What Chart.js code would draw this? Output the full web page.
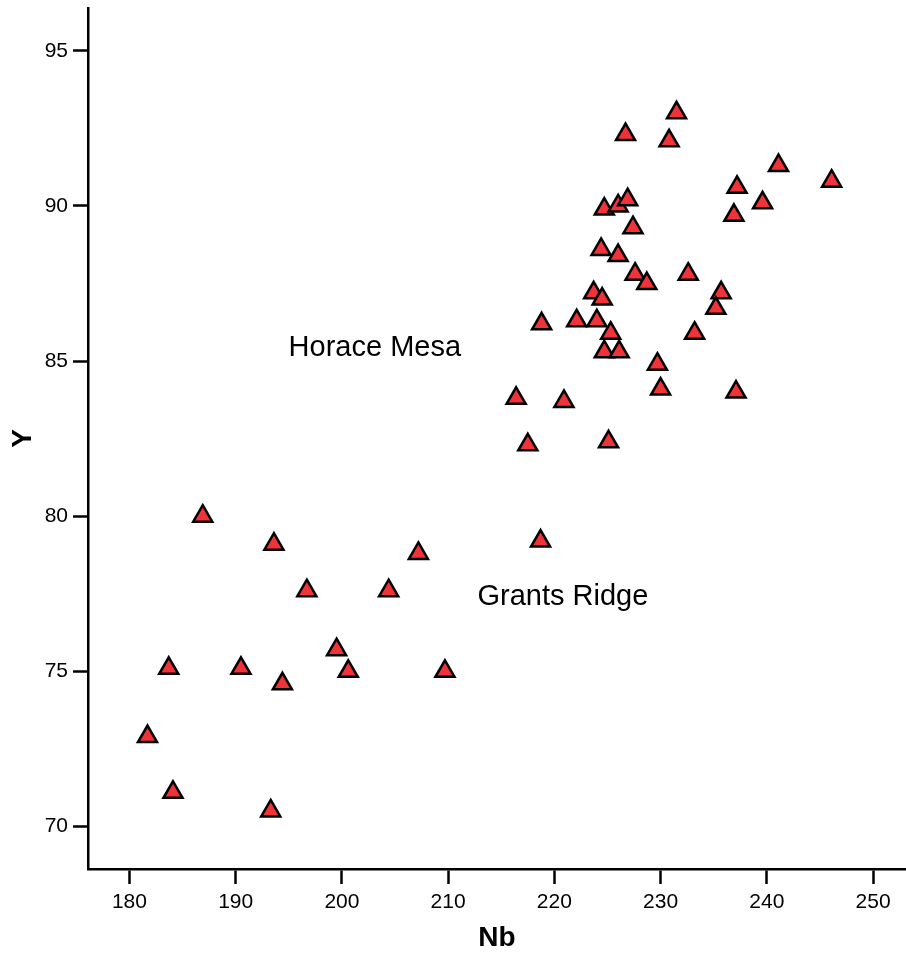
<!DOCTYPE html>
<html>
<head>
<meta charset="utf-8">
<script src="https://cdn.jsdelivr.net/npm/chart.js@4"></script>
<style>
html,body{margin:0;padding:0;background:#fff;}
canvas{display:block;}
</style>
</head>
<body>
<canvas id="c" width="906" height="957"></canvas>
<script>
// Data
const nbValues = [
  181.7, 183.7, 184.1, 190.5, 194.4, 193.3, 193.6, 186.9, 196.7, 199.5,
  200.6, 209.7, 204.4, 207.2, 218.7,
  231.5, 226.7, 230.8, 241.1, 246.1, 237.2, 239.6, 236.9, 224.7, 226.0,
  226.9, 227.4, 224.4, 226.0, 227.6, 232.6, 228.7, 235.7, 235.2, 223.7,
  224.5, 218.8, 222.1, 224.0, 225.3, 224.7, 226.1, 233.2, 229.7, 230.0,
  237.1, 216.4, 220.9, 217.5, 225.1
];
const yValues = [
  72.9, 75.1, 71.1, 75.1, 74.6, 70.5, 79.1, 80.0, 77.6, 75.7,
  75.0, 75.0, 77.6, 78.8, 79.2,
  93.0, 92.3, 92.1, 91.3, 90.8, 90.6, 90.1, 89.7, 89.9, 90.0,
  90.2, 89.3, 88.6, 88.4, 87.8, 87.8, 87.5, 87.2, 86.7, 87.2,
  87.0, 86.2, 86.3, 86.3, 85.9, 85.3, 85.3, 85.9, 84.9, 84.1,
  84.0, 83.8, 83.7, 82.3, 82.4
];
const xTickValues = [180, 190, 200, 210, 220, 230, 240, 250];
const yTickValues = [70, 75, 80, 85, 90, 95];
const groupLabels = ['Horace Mesa', 'Grants Ridge'];
const groupLabelNb = [203.1, 220.8];
const groupLabelY = [85.42, 77.39];

const FONT = "'Liberation Sans', Arial, Helvetica, sans-serif";

const points = nbValues.map((v, i) => ({x: v, y: yValues[i]}));

const labelPlugin = {
  id: 'groupLabels',
  afterDatasetsDraw(chart) {
    const {ctx, scales} = chart;
    ctx.save();
    ctx.fillStyle = '#000';
    ctx.font = "29px " + FONT;
    ctx.textAlign = 'center';
    ctx.textBaseline = 'middle';
    groupLabels.forEach((t, i) => {
      ctx.fillText(t, scales.x.getPixelForValue(groupLabelNb[i]), scales.y.getPixelForValue(groupLabelY[i]));
    });
    ctx.restore();
  }
};

function zeroPad(s) {
  s.paddingTop = 0; s.paddingBottom = 0; s.paddingLeft = 0; s.paddingRight = 0;
}

new Chart(document.getElementById('c'), {
  type: 'scatter',
  data: {
    datasets: [{
      data: points,
      pointStyle: 'triangle',
      pointRadius: 11,
      pointHoverRadius: 11,
      backgroundColor: '#ee3339',
      borderColor: '#000',
      borderWidth: 2.5,
      clip: false
    }]
  },
  options: {
    responsive: false,
    animation: false,
    devicePixelRatio: 1,
    layout: {autoPadding: false, padding: {top: 8, left: 0, right: 0, bottom: 0}},
    plugins: {legend: {display: false}, tooltip: {enabled: false}},
    scales: {
      x: {
        type: 'linear',
        min: 176.1,
        max: 253.1,
        afterFit: s => { s.height = 88; zeroPad(s); },
        afterBuildTicks: s => { s.ticks = xTickValues.map(v => ({value: v})); },
        ticks: {color: '#000', font: {family: FONT, size: 21}, padding: 6, maxRotation: 0, autoSkip: false},
        grid: {drawOnChartArea: false, drawTicks: true, tickLength: 15, tickWidth: 2.5, tickColor: '#000'},
        border: {display: true, color: '#000', width: 2.5},
        title: {display: true, text: 'Nb', color: '#000', font: {family: FONT, size: 28, weight: 'bold'}, padding: {top: 0, bottom: 2}}
      },
      y: {
        type: 'linear',
        min: 68.63,
        max: 96.38,
        afterFit: s => { s.width = 88; zeroPad(s); },
        afterBuildTicks: s => { s.ticks = yTickValues.map(v => ({value: v})); },
        ticks: {color: '#000', font: {family: FONT, size: 21}, padding: 5, autoSkip: false},
        grid: {drawOnChartArea: false, drawTicks: true, tickLength: 15, tickWidth: 2.5, tickColor: '#000'},
        border: {display: true, color: '#000', width: 2.5},
        title: {display: true, text: 'Y', color: '#000', font: {family: FONT, size: 28, weight: 'bold'}, padding: {top: 6, bottom: 0}}
      }
    }
  },
  plugins: [labelPlugin]
});
</script>
</body>
</html>
